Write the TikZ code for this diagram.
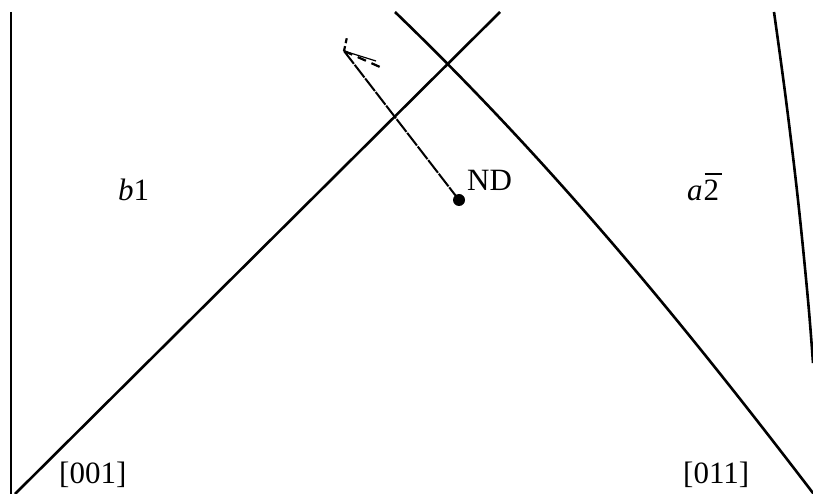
\documentclass[tikz,border=0pt]{standalone}
\usepackage{fontspec}
\setmainfont{Liberation Serif}
\begin{document}
\begin{tikzpicture}[x=1pt,y=-1pt,
  edge/.style={line width=2.6pt},
  lbl/.style={inner sep=0pt,anchor=base west,font=\fontsize{31}{36}\selectfont},
  trace/.style={line width=2pt,dash pattern=on 16pt off 1.2pt},
  thin trace/.style={line width=1.2pt},
  dash trace/.style={line width=2.2pt,dash pattern=on 9pt off 6pt}]
\useasboundingbox (0,0) rectangle (813,494);
% left vertical line
\coordinate (L1) at (11,12);
\coordinate (L2) at (11,494);
\draw[edge] (L1) -- (L2);
% straight diagonal
\coordinate (D1) at (15,494);
\coordinate (D2) at (500,12);
\draw[edge] (D1) -- (D2);
% curved line
\coordinate (C1) at (395,12);
\coordinate (C2) at (816,497);
\draw[edge] (C1) .. controls (561,172) and (693,336) .. (C2);
% right arc
\draw[edge] plot[smooth,tension=0.6] coordinates {(774,12) (786,100) (798,200) (808,300) (813,363)};
% ND point
\node[circle,fill=black,inner sep=0pt,minimum size=12pt] (nd) at (459,200) {};
\node[lbl] (ndl) at (467,191) {ND};
\coordinate (P) at (344,51);
\coordinate (Pup) at (347,37);
\coordinate (Pr) at (380,67);
\coordinate (Pt) at (376,61);
\draw[trace] (nd.center) -- (P);
\draw[dash trace,dash pattern=on 5pt off 3pt] (P) -- (Pup);
\draw[thin trace] (P) -- (Pt);
\draw[dash trace] (P) -- (Pr);
% labels
\node[lbl] (b1) at (118,201) {\textit{b}1};
\node[lbl] (a2) at (687,201) {\textit{a}\kern1pt\rlap{\kern1pt\rule[0.85em]{0.56em}{1.4pt}}2};
\node[lbl] (l001) at (59,483) {[001]};
\node[lbl] (l011) at (683,483) {[011]};
\end{tikzpicture}
\end{document}
